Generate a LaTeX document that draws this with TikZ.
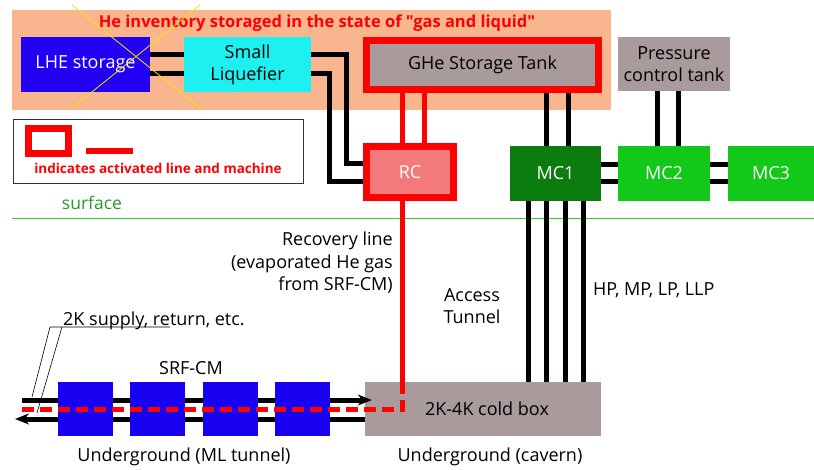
\documentclass[tikz,border=0pt]{standalone}
\usepackage{fontspec}
\setmainfont{Open Sans}[Ligatures=TeXOff]
\usepackage{xcolor}
\usetikzlibrary{arrows.meta,backgrounds}
\definecolor{peach}{HTML}{F9B68E}
\definecolor{lheblue}{HTML}{2200F2}
\definecolor{cyanbox}{HTML}{1CF0F0}
\definecolor{tankgray}{HTML}{A99B9C}
\definecolor{rcpink}{HTML}{F27A7A}
\definecolor{mcdark}{HTML}{0A7D0E}
\definecolor{mclight}{HTML}{12C818}
\definecolor{surfgreen}{HTML}{33CC33}
\definecolor{actred}{HTML}{FF0000}
\definecolor{crossyellow}{HTML}{F5E600}
\definecolor{cmblue}{HTML}{1800F0}

\begin{document}
\begin{tikzpicture}[x=1pt,y=1pt,yscale=-1,xscale=1,
	unit/.style={rectangle,inner sep=0pt,align=center,font=\fontsize{18}{22}\selectfont},
	active/.style={unit,draw=actred,line width=7pt},
	pipe/.style={line width=5pt},
	redpipe/.style={line width=5.5pt,actred},
	lbl/.style={inner sep=0pt,align=center,font=\fontsize{18}{22.5}\selectfont}]
	\useasboundingbox (0,0) rectangle (814,469);
	\node[unit,fill=lheblue,text=white,minimum width=129,minimum height=55] (lhe) at (85.5,64.5) {LHE storage};
	\node[unit,fill=cyanbox,minimum width=127,minimum height=55] (liq) at (247.5,64.5) {Small\\Liquefier};
	\node[active,fill=tankgray,minimum width=232,minimum height=49] (ghe) at (482.5,65) {GHe Storage Tank};
	\node[unit,fill=tankgray,minimum width=112,minimum height=54] (pct) at (674,64) {Pressure\\control tank};
	\node[active,fill=rcpink,text=white,minimum width=87,minimum height=51] (rc) at (410,172) {RC};
	\node[unit,fill=mcdark,text=white,minimum width=91,minimum height=55] (mc1) at (555.5,173.5) {MC1};
	\node[unit,fill=mclight,text=white,minimum width=92,minimum height=55] (mc2) at (664,173.5) {MC2};
	\node[unit,fill=mclight,text=white,minimum width=86,minimum height=55] (mc3) at (771,173.5) {MC3};
	\node[unit,fill=tankgray,minimum width=236,minimum height=54] (cold) at (483,409) {\hspace*{8pt}2K-4K cold box};
	\node[lbl,text=actred,font=\fontsize{16.5}{20}\selectfont\bfseries] (title) at (317,23) {He inventory storaged in the state of "gas and liquid"};

	\begin{scope}[on background layer]
	\fill[peach] (12,10) rectangle (611,110);
	\coordinate (surfL) at (12,218);
	\coordinate (surfR) at (814,218);
	\draw[surfgreen,line width=0.8pt] (surfL) -- (surfR);
	\coordinate (ra) at (0,54.5);
	\coordinate (rb) at (0,73);
	\coordinate (ka) at (346.5,163.5);
	\coordinate (kb) at (329,181.5);
	\draw[pipe] (lhe.east |- ra) -- (liq.west |- ra);
	\draw[pipe] (lhe.east |- rb) -- (liq.west |- rb);
	\draw[pipe] (liq.east |- ra) -| (ka) -- (rc.west |- ka);
	\draw[pipe] (liq.east |- rb) -| (kb) -- (rc.west |- kb);
	\foreach \x in {402.5,424.5} \draw[redpipe] (ghe.south -| \x,0) -- (rc.north -| \x,0);
	\draw[redpipe] (rc.south -| 402.5,0) -- (cold.north -| 402.5,0);
	\foreach \x in {546.5,568.5} \draw[pipe] (ghe.south -| \x,0) -- (mc1.north -| \x,0);
	\foreach \x in {657.5,678.5} \draw[pipe] (pct.south -| \x,0) -- (mc2.north -| \x,0);
	\foreach \y in {164.5,181.5} {
		\draw[pipe] (mc1.east |- 0,\y) -- (mc2.west |- 0,\y);
		\draw[pipe] (mc2.east |- 0,\y) -- (mc3.west |- 0,\y);
	}
	\foreach \x in {528.5,546.5,565,583} \draw[pipe] (mc1.south -| \x,0) -- (cold.north -| \x,0);
	\end{scope}

	\node[draw=black!80,line width=0.8pt,minimum width=290,minimum height=64,inner sep=0pt] (legend) at (158,151) {};
	\node[draw=actred,line width=7pt,minimum width=40,minimum height=25,inner sep=0pt] (legbox) at (48.5,141) {};
	\coordinate (legA) at (86,151);
	\coordinate (legB) at (133,151);
	\draw[actred,line width=6pt] (legA) -- (legB);
	\node[text=actred,font=\fontsize{13.5}{16}\selectfont\bfseries] (legtxt) at (158,168) {indicates activated line and machine};
	\node[text=surfgreen!75!black,font=\fontsize{17.5}{20}\selectfont] (surf) at (92,203) {surface};

	\node[lbl,align=right,anchor=east] (rec) at (393,263) {Recovery line\\(evaporated He gas\\from SRF-CM)};
	\node[lbl] (acc) at (472,306) {Access\\Tunnel};
	\node[lbl,anchor=west] (hp) at (593,290) {HP, MP, LP, LLP};
	\node[lbl,anchor=base west] (sup) at (63,325) {2K supply, return, etc.};
	\node[lbl] (srf) at (191,368) {SRF-CM};
	\node[lbl] (ugml) at (184,457) {Underground (ML tunnel)};
	\node[lbl] (ugcv) at (490,457) {Underground (cavern)};

	\coordinate (ulA) at (50,327);
	\coordinate (ulB) at (170,327);
	\coordinate (ulC) at (62,327);
	\coordinate (ldA) at (32,397);
	\coordinate (ldB) at (37,413);
	\draw[line width=0.6pt] (ldA) -- (ulA) -- (ulB);
	\draw[line width=0.6pt] (ulC) -- (ldB);

	\coordinate (supL) at (22,400);
	\coordinate (retL) at (15,419);
	\draw[pipe,-{Stealth[length=14pt,width=11pt]},shorten >=-7pt] (supL) -- (cold.west |- supL);
	\draw[pipe,-{Stealth[length=14pt,width=11pt]}] (cold.west |- retL) -- (retL);
	\foreach \i/\x in {1/85.5,2/157,3/230,4/302.5}
		\node[unit,fill=cmblue,minimum width=55,minimum height=54] (cm\i) at (\x,409) {};
	\coordinate (dashL) at (20,409.5);
	\draw[redpipe,dash pattern=on 12pt off 6pt] (cold.north -| 402.5,0) -- (402.5,409.5) -- (dashL);

	\coordinate (xa) at (72,5);
	\coordinate (xb) at (200,108);
	\coordinate (xc) at (200,5);
	\coordinate (xd) at (72,108);
	\draw[crossyellow,line width=0.8pt] (xa) -- (xb);
	\draw[crossyellow,line width=0.8pt] (xc) -- (xd);
\end{tikzpicture}
\end{document}
